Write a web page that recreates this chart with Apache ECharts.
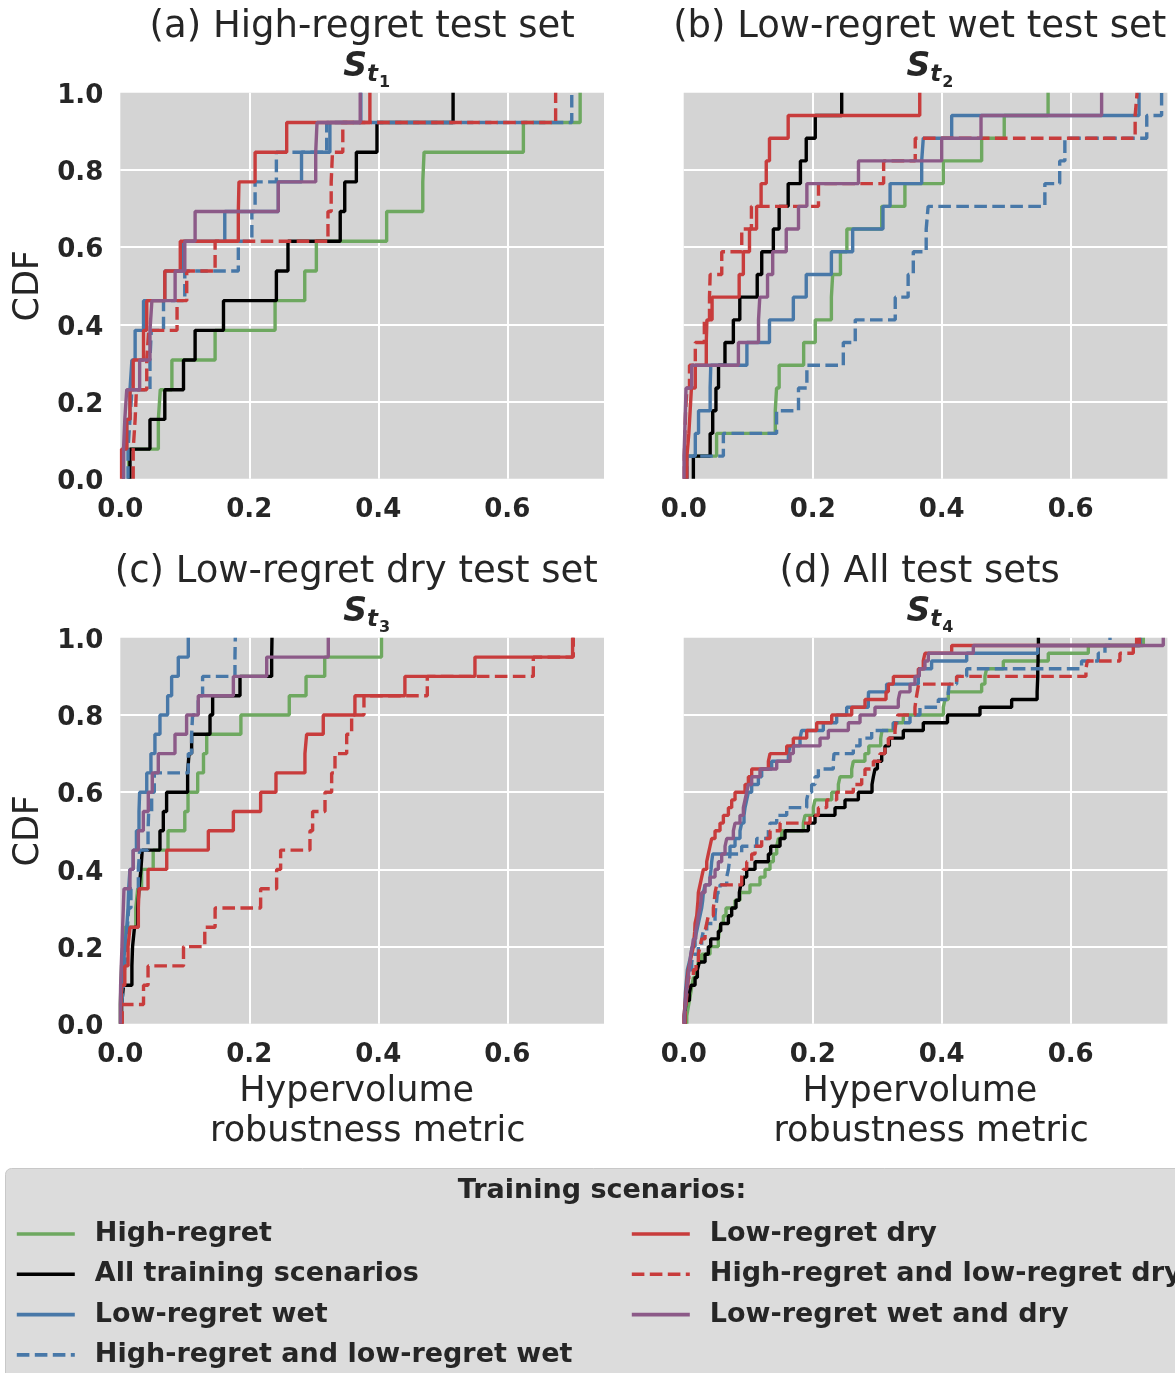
<!DOCTYPE html>
<html>
<head>
<meta charset="utf-8">
<script src="https://cdn.jsdelivr.net/npm/echarts@6/dist/echarts.min.js"></script>
<style>
  html, body { margin: 0; padding: 0; background: #ffffff; }
  #chart { width: 1175px; height: 1373px; }
</style>
</head>
<body>
<div id="chart"></div>
<script>
// Training scenario sets (legend order)
const seriesNames = [
  'High-regret',
  'All training scenarios',
  'Low-regret wet',
  'High-regret and low-regret wet',
  'Low-regret dry',
  'High-regret and low-regret dry',
  'Low-regret wet and dry'
];

const panelTitles = [
  '(a) High-regret test set',
  '(b) Low-regret wet test set ',
  '(c) Low-regret dry test set ',
  '(d) All test sets '
];
const panelSubscripts = ['1', '2', '3', '4'];

const xTickValues = [0, 0.2, 0.4, 0.6];
const yTickValues = [0, 0.2, 0.4, 0.6, 0.8, 1.0];

// Hypervolume robustness metric per test scenario, (a) high-regret test set
const aHigh     = [0.013, 0.059, 0.062, 0.080, 0.147, 0.240, 0.286, 0.304, 0.413, 0.469, 0.471, 0.625, 0.713];
const aAll      = [0.015, 0.046, 0.069, 0.098, 0.116, 0.160, 0.242, 0.260, 0.341, 0.348, 0.366, 0.398, 0.516];
const aWet      = [0.005, 0.010, 0.015, 0.018, 0.023, 0.036, 0.069, 0.098, 0.162, 0.245, 0.281, 0.325, 0.373];
const aHighWet  = [0.012, 0.015, 0.018, 0.046, 0.048, 0.067, 0.100, 0.183, 0.204, 0.209, 0.242, 0.320, 0.700];
const aDry      = [0.002, 0.010, 0.015, 0.020, 0.036, 0.041, 0.069, 0.093, 0.183, 0.184, 0.209, 0.258, 0.387];
const aHighDry  = [0.020, 0.023, 0.025, 0.041, 0.044, 0.088, 0.103, 0.147, 0.322, 0.327, 0.329, 0.345, 0.675];
const aWetDry   = [0.005, 0.007, 0.010, 0.030, 0.046, 0.049, 0.085, 0.100, 0.116, 0.245, 0.303, 0.305, 0.372];

// (b) low-regret wet test set
const bHigh     = [0.002, 0.051, 0.142, 0.144, 0.148, 0.186, 0.204, 0.229, 0.231, 0.243, 0.253, 0.307, 0.343, 0.4025, 0.462, 0.497, 0.565];
const bAll      = [0.015, 0.041, 0.045, 0.050, 0.054, 0.064, 0.077, 0.087, 0.114, 0.121, 0.139, 0.148, 0.162, 0.181, 0.190, 0.204, 0.245];
const bWet      = [0.005, 0.018, 0.023, 0.041, 0.042, 0.098, 0.133, 0.170, 0.190, 0.229, 0.262, 0.309, 0.320, 0.369, 0.3715, 0.4155, 0.706];
const bHighWet  = [0.005, 0.0615, 0.144, 0.178, 0.191, 0.2475, 0.266, 0.328, 0.348, 0.356, 0.376, 0.379, 0.560, 0.583, 0.591, 0.718, 0.741];
const bDry      = [0.005, 0.008, 0.010, 0.012, 0.018, 0.035, 0.036, 0.044, 0.086, 0.0925, 0.102, 0.113, 0.120, 0.128, 0.133, 0.162, 0.366];
const bHighDry  = [0.001, 0.002, 0.003, 0.005, 0.009, 0.018, 0.032, 0.040, 0.041, 0.059, 0.090, 0.105, 0.209, 0.310, 0.359, 0.700, 0.703];
const bWetDry   = [0.0005, 0.0016, 0.0026, 0.0036, 0.0124, 0.0848, 0.116, 0.118, 0.130, 0.138, 0.159, 0.178, 0.191, 0.271, 0.400, 0.461, 0.648];

// (c) low-regret dry test set
const cHigh     = [0.000, 0.001, 0.002, 0.004, 0.007, 0.024, 0.027, 0.033, 0.051, 0.074, 0.100, 0.105, 0.120, 0.129, 0.134, 0.187, 0.262, 0.288, 0.317, 0.405];
const cAll      = [0.002, 0.005, 0.018, 0.019, 0.022, 0.027, 0.029, 0.032, 0.034, 0.0615, 0.0667, 0.0718, 0.1044, 0.1065, 0.1106, 0.1391, 0.1432, 0.1856, 0.2347, 0.2352];
const cWet      = [0.001, 0.003, 0.005, 0.007, 0.010, 0.012, 0.013, 0.015, 0.020, 0.025, 0.029, 0.030, 0.041, 0.0475, 0.0537, 0.0615, 0.0734, 0.0796, 0.0899, 0.1054];
const cHighWet  = [0.002, 0.005, 0.007, 0.010, 0.011, 0.013, 0.0165, 0.028, 0.030, 0.043, 0.044, 0.0486, 0.0527, 0.1054, 0.1106, 0.1121, 0.1209, 0.1276, 0.1778, 0.1783];
const cDry      = [0.001, 0.002, 0.007, 0.012, 0.015, 0.028, 0.029, 0.043, 0.072, 0.1365, 0.1753, 0.2176, 0.2414, 0.2863, 0.2889, 0.3147, 0.3638, 0.4413, 0.5499, 0.7013];
const cHighDry  = [0.003, 0.036, 0.043, 0.098, 0.131, 0.147, 0.2176, 0.2424, 0.2486, 0.2941, 0.2982, 0.3174, 0.3277, 0.3329, 0.351, 0.3587, 0.3778, 0.476, 0.6404, 0.7024];
const cWetDry   = [0.000, 0.0005, 0.0015, 0.0026, 0.0036, 0.0047, 0.0057, 0.015, 0.020, 0.028, 0.0357, 0.0434, 0.0496, 0.0589, 0.0848, 0.1028, 0.1209, 0.1753, 0.227, 0.3225];

// (d) all test sets
const dHigh     = [0.0047, 0.0067, 0.0088, 0.0109, 0.0129, 0.015, 0.0202, 0.0227, 0.0279, 0.0408,
                   0.0537, 0.0553, 0.0574, 0.0615, 0.0656, 0.0796, 0.0873, 0.1028, 0.1183, 0.1261,
                   0.1338, 0.139, 0.1442, 0.1468, 0.1519, 0.1855, 0.1881, 0.201, 0.2036, 0.2295,
                   0.2398, 0.2424, 0.2605, 0.263, 0.281, 0.287, 0.3055, 0.3075, 0.325, 0.3405,
                   0.4025, 0.4051, 0.4103, 0.462, 0.4671, 0.4697, 0.4956, 0.5653, 0.6274, 0.7126];
const dAll      = [0.0016, 0.0026, 0.0036, 0.0088, 0.0114, 0.0176, 0.0212, 0.0243, 0.0331, 0.0382,
                   0.0419, 0.0537, 0.0574, 0.0693, 0.0744, 0.0811, 0.0863, 0.0884, 0.0925, 0.0977,
                   0.1106, 0.1313, 0.1349, 0.1494, 0.1571, 0.1933, 0.2036, 0.2346, 0.2501, 0.2708,
                   0.292, 0.2941, 0.2966, 0.3003, 0.307, 0.3121, 0.3189, 0.3405, 0.3715, 0.409,
                   0.4594, 0.5085, 0.548, 0.5485, 0.549, 0.549, 0.5495, 0.5495, 0.55, 0.55];
const dWet      = [0.0005, 0.0016, 0.0021, 0.0026, 0.0036, 0.0047, 0.0057, 0.0088, 0.0114, 0.0129,
                   0.0176, 0.0202, 0.0227, 0.0253, 0.0279, 0.0295, 0.0305, 0.0331, 0.0408, 0.0424,
                   0.0434, 0.045, 0.0718, 0.0796, 0.0873, 0.0899, 0.0935, 0.0951, 0.0977, 0.1003,
                   0.1054, 0.1158, 0.1209, 0.1364, 0.1623, 0.1649, 0.1804, 0.1829, 0.2165, 0.2372,
                   0.2527, 0.2862, 0.2866, 0.3146, 0.3638, 0.3653, 0.3844, 0.4388, 0.549, 0.7081];
const dHighWet  = [0.0016, 0.0026, 0.0036, 0.0047, 0.0057, 0.0072, 0.0088, 0.0124, 0.015, 0.0227,
                   0.0279, 0.0305, 0.0357, 0.0486, 0.0496, 0.0512, 0.0522, 0.0563, 0.0667, 0.0693,
                   0.0708, 0.0718, 0.0899, 0.1132, 0.1313, 0.1339, 0.1442, 0.1597, 0.1907, 0.1933,
                   0.1984, 0.2036, 0.2088, 0.232, 0.2331, 0.263, 0.2734, 0.2915, 0.3251, 0.3509,
                   0.3663, 0.3948, 0.4103, 0.4118, 0.4232, 0.4388, 0.6169, 0.6428, 0.6532, 0.661];
const dDry      = [0.0005, 0.0016, 0.0026, 0.0036, 0.0047, 0.0057, 0.0072, 0.0098, 0.0124, 0.015,
                   0.016, 0.0171, 0.0176, 0.0202, 0.0212, 0.0222, 0.0227, 0.0253, 0.0279, 0.0305,
                   0.0357, 0.0382, 0.0408, 0.0434, 0.0486, 0.0563, 0.0615, 0.0693, 0.0744, 0.0796,
                   0.0951, 0.1003, 0.1054, 0.1313, 0.1339, 0.1597, 0.17, 0.1907, 0.2062, 0.2295,
                   0.2605, 0.2811, 0.3137, 0.3173, 0.3251, 0.3638, 0.3715, 0.3741, 0.4155, 0.7066];
const dHighDry  = [0.0021, 0.0031, 0.0041, 0.0052, 0.0062, 0.0072, 0.015, 0.0191, 0.0227, 0.0253,
                   0.0279, 0.0331, 0.0357, 0.0382, 0.046, 0.0475, 0.0486, 0.0512, 0.0899, 0.0925,
                   0.0977, 0.1054, 0.1106, 0.1209, 0.1339, 0.1494, 0.1959, 0.2088, 0.2217, 0.2372,
                   0.263, 0.276, 0.2811, 0.2941, 0.3044, 0.3121, 0.3173, 0.3276, 0.329, 0.332,
                   0.3586, 0.3602, 0.3622, 0.3643, 0.4232, 0.6237, 0.6258, 0.6764, 0.6971, 0.7023];
const dWetDry   = [0.001, 0.0021, 0.0031, 0.0041, 0.0052, 0.0067, 0.0083, 0.0098, 0.0109, 0.0134,
                   0.015, 0.0186, 0.0212, 0.0227, 0.0253, 0.0269, 0.0279, 0.0331, 0.0408, 0.0486,
                   0.0537, 0.0589, 0.0641, 0.0667, 0.077, 0.0796, 0.0873, 0.0925, 0.0951, 0.0977,
                   0.1003, 0.1054, 0.1183, 0.1442, 0.1649, 0.17, 0.2114, 0.2243, 0.2553, 0.2734,
                   0.2966, 0.3328, 0.3354, 0.3509, 0.3586, 0.3653, 0.3741, 0.3793, 0.4491, 0.7436];

const panelData = [
  [aHigh, aAll, aWet, aHighWet, aDry, aHighDry, aWetDry],
  [bHigh, bAll, bWet, bHighWet, bDry, bHighDry, bWetDry],
  [cHigh, cAll, cWet, cHighWet, cDry, cHighDry, cWetDry],
  [dHigh, dAll, dWet, dHighWet, dDry, dHighDry, dWetDry]
];

// ---- styling / layout ----
const FONT = 'DejaVu Sans';
const TEXT = '#262626';
const lineColors = ['#6ea860', '#000000', '#4878a8', '#4878a8', '#c83c3c', '#c83c3c', '#8c5a88'];
const lineDashed = [false, false, false, true, false, true, false];
const LINE_W = 3.4;
const DASH = [12.6, 5.4];

const colLeft = [120.3, 683.7];
const rowTop = [92.8, 637.8];
const plotW = 483.7;
const plotH = 386;

// Empirical CDF: jump of 1/n at every sorted value, starting from 0
function ecdf(values) {
  const v = values.slice().sort((p, q) => p - q);
  const n = v.length;
  const pts = [[v[0], 0]];
  v.forEach((x, i) => pts.push([x, (i + 1) / n]));
  return pts;
}

function near(list, v) {
  return list.some(t => Math.abs(t - v) < 1e-6);
}

const grids = [], xAxes = [], yAxes = [], series = [], titles = [];

panelData.forEach((sets, p) => {
  const col = p % 2, row = Math.floor(p / 2);
  const left = colLeft[col], top = rowTop[row];
  const cx = left + plotW / 2;

  grids.push({
    left: left, top: top, width: plotW, height: plotH,
    show: true, backgroundColor: '#d4d4d4', borderWidth: 0
  });

  xAxes.push({
    type: 'value', gridIndex: p, min: 0, max: 0.75, interval: 0.2,
    axisLine: { show: false }, axisTick: { show: false },
    splitLine: { show: true, showMinLine: false, showMaxLine: false,
                 lineStyle: { color: '#ffffff', width: 2 } },
    axisLabel: {
      show: true, margin: 18, fontSize: 26, fontWeight: 'bold', color: TEXT, fontFamily: FONT,
      showMaxLabel: false,
      formatter: v => near(xTickValues, v) ? v.toFixed(1) : ''
    },
    name: row === 1 ? 'Hypervolume \n robustness metric' : '',
    nameLocation: 'middle', nameGap: 48,
    nameTextStyle: { fontSize: 35, lineHeight: 40, color: TEXT, fontFamily: FONT }
  });

  yAxes.push({
    type: 'value', gridIndex: p, min: 0, max: 1, interval: 0.2,
    axisLine: { show: false }, axisTick: { show: false },
    splitLine: { show: true, showMinLine: false, showMaxLine: false,
                 lineStyle: { color: '#ffffff', width: 2 } },
    axisLabel: {
      show: col === 0, margin: 17, color: TEXT, fontFamily: FONT,
      formatter: v => near(yTickValues, v) ? '{v|' + v.toFixed(1) + '}' : '',
      rich: {
        v: { fontSize: 26, fontWeight: 'bold', color: TEXT, fontFamily: FONT, padding: [7, 0, 0, 0] }
      }
    },
    name: col === 0 ? 'CDF' : '',
    nameLocation: 'middle', nameGap: 74,
    nameTextStyle: { fontSize: 35, color: TEXT, fontFamily: FONT }
  });

  sets.forEach((vals, s) => {
    series.push({
      type: 'line', name: seriesNames[s],
      xAxisIndex: p, yAxisIndex: p,
      data: ecdf(vals),
      step: 'end', symbol: 'none', showSymbol: false,
      animation: false, clip: true,
      itemStyle: { color: lineColors[s] },
      lineStyle: { color: lineColors[s], width: LINE_W, type: lineDashed[s] ? DASH : 'solid' },
      emphasis: { disabled: true }
    });
  });

  titles.push({
    text: panelTitles[p], left: cx, top: 9.2 + row * 545, textAlign: 'center', padding: 0,
    textStyle: { fontSize: 37, lineHeight: 37, fontWeight: 'normal', color: TEXT, fontFamily: FONT }
  });
  titles.push({
    text: '{s|S}{t|t}{n|' + panelSubscripts[p] + '}',
    left: cx + 4.5, top: 51 + row * 545, textAlign: 'center', padding: 0,
    textStyle: {
      color: TEXT, fontFamily: FONT,
      rich: {
        s: { fontSize: 33, fontWeight: 'bold', fontStyle: 'italic', fontFamily: FONT, color: TEXT,
             verticalAlign: 'bottom', padding: [0, 0, 7, 0] },
        t: { fontSize: 23, fontWeight: 'bold', fontStyle: 'italic', fontFamily: FONT, color: TEXT,
             verticalAlign: 'bottom', padding: [0, 0, 4, 0] },
        n: { fontSize: 16, fontWeight: 'bold', fontFamily: FONT, color: TEXT,
             verticalAlign: 'bottom', padding: [0, 0, 0, 1] }
      }
    }
  });
});

function legendBlock(left, names) {
  return {
    orient: 'vertical', selectedMode: false, padding: 0,
    left: left, top: 1220.5, height: 200,
    itemWidth: 58, itemHeight: 14, itemGap: 13.3,
    itemStyle: { opacity: 0, borderWidth: 0 },
    lineStyle: { width: 3.6 },
    textStyle: { fontSize: 27, lineHeight: 27, fontWeight: 'bold', color: TEXT, fontFamily: FONT,
                 padding: [0, 0, 0, 15] },
    data: names,
    z: 10
  };
}

const option = {
  backgroundColor: '#ffffff',
  animation: false,
  title: titles,
  grid: grids,
  xAxis: xAxes,
  yAxis: yAxes,
  series: series,
  legend: [
    legendBlock(15, seriesNames.slice(0, 4)),
    legendBlock(630, seriesNames.slice(4))
  ],
  graphic: [
    {
      type: 'rect', z: 1, silent: true,
      shape: { x: 5.5, y: 1168.5, width: 1200, height: 230, r: 6 },
      style: { fill: '#dcdcdc', stroke: '#c8c8c8', lineWidth: 1 }
    },
    {
      type: 'text', z: 2, silent: true,
      style: {
        text: 'Training scenarios:', x: 602, y: 1191,
        textAlign: 'center', textVerticalAlign: 'middle',
        font: 'bold 27px "DejaVu Sans"', fill: TEXT
      }
    }
  ]
};

const chart = echarts.init(document.getElementById('chart'), null, { renderer: 'canvas' });
chart.setOption(option);
</script>
</body>
</html>
